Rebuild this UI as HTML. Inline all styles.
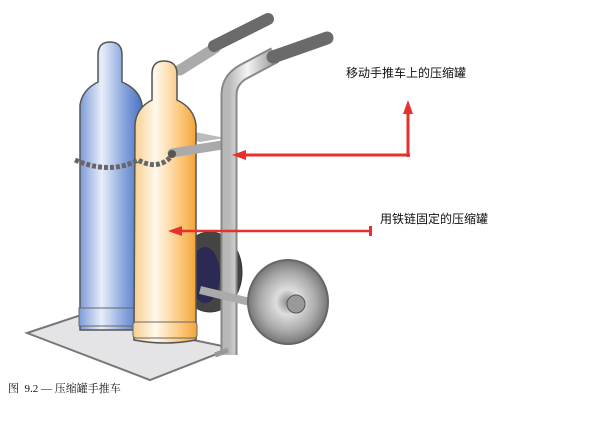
<!DOCTYPE html>
<html><head><meta charset="utf-8"><style>
body{margin:0;background:#fff;width:600px;height:435px;overflow:hidden;position:relative;font-family:"Liberation Serif","Noto Serif CJK SC",serif}
.t{position:absolute;font-size:12px;color:#111;font-family:"Liberation Sans","Noto Sans CJK SC",sans-serif}
</style></head><body>
<svg width="600" height="435" style="position:absolute;left:0;top:0">
<defs>
<linearGradient id="bl" x1="0" x2="1"><stop offset="0" stop-color="#7d9bd8"/><stop offset=".35" stop-color="#e8eefa"/><stop offset=".7" stop-color="#8aa6dd"/><stop offset="1" stop-color="#4a72c4"/></linearGradient>
<linearGradient id="or" x1="0" x2="1"><stop offset="0" stop-color="#f7cf8e"/><stop offset=".35" stop-color="#fff8ec"/><stop offset=".75" stop-color="#fbc77a"/><stop offset="1" stop-color="#f3a53a"/></linearGradient>
<linearGradient id="mt" x1="0" x2="1"><stop offset="0" stop-color="#b8b8b8"/><stop offset=".4" stop-color="#f4f4f4"/><stop offset="1" stop-color="#9a9a9a"/></linearGradient>
<radialGradient id="wh"><stop offset="0" stop-color="#888"/><stop offset=".3" stop-color="#ddd"/><stop offset=".7" stop-color="#aaa"/><stop offset="1" stop-color="#777"/></radialGradient>
</defs>
<polygon points="27,333 78,316 232,348 150,380" fill="#e4e4e6" stroke="#777" stroke-width="2"/>
<ellipse cx="210" cy="272" rx="32" ry="40" fill="#444" stroke="#333"/>
<ellipse cx="205" cy="275" rx="15" ry="28" fill="#2a2a55"/>
<path d="M180,70 L215,48" stroke="#aaa" stroke-width="11" stroke-linecap="round" fill="none"/>
<path d="M214,46 L268,19" stroke="#6a6a6a" stroke-width="12" stroke-linecap="round"/>
<polygon points="170,135 195,132 225,138 200,142" fill="#bbb"/>
<path d="M80,105 Q82,90 98,82 L98,55 Q98,42 110,42 Q122,42 122,55 L122,82 Q140,90 142,105 L142,330 L80,330 Z" fill="url(#bl)" stroke="#555" stroke-width="1.5"/>
<rect x="79" y="308" width="64" height="18" fill="url(#bl)" stroke="#666"/>
<path d="M135,125 Q136,108 152,100 L152,74 Q152,61 164,61 Q177,61 177,74 L177,100 Q194,108 196,125 L196,340 Q165,346 134,340 Z" fill="url(#or)" stroke="#555" stroke-width="1.5"/>
<rect x="133" y="322" width="64" height="16" rx="3" fill="url(#or)" stroke="#666"/>
<path d="M75,160 Q110,175 138,160 Q160,172 174,153" stroke="#666" stroke-width="5" fill="none" stroke-dasharray="4 2"/>
<path d="M172,153 L222,145" stroke="#aaa" stroke-width="9" stroke-linecap="round"/>
<circle cx="172" cy="154" r="4" fill="#555"/>
<path d="M229,355 L229,95 Q229,80 243,72 L275,55" stroke="#888" stroke-width="17" fill="none" stroke-linejoin="round"/>
<path d="M229,355 L229,95 Q229,80 243,72 L275,55" stroke="url(#mt)" stroke-width="13" fill="none"/>
<path d="M273,57 L327,38" stroke="#6a6a6a" stroke-width="13" stroke-linecap="round"/>
<path d="M215,355 L228,350" stroke="#999" stroke-width="5"/>
<path d="M200,290 L250,302" stroke="#aaa" stroke-width="8"/>
<ellipse cx="288" cy="302" rx="40" ry="42" fill="url(#wh)" stroke="#666" stroke-width="2"/>
<circle cx="296" cy="304" r="9" fill="#999" stroke="#555"/>
<path d="M410,155 L244,155" stroke="#e8302e" stroke-width="3"/>
<polygon points="232,155 246,150 246,160" fill="#e8302e"/>
<path d="M408,157 L408,110" stroke="#e8302e" stroke-width="3"/>
<polygon points="408,100 403,114 413,114" fill="#e8302e"/>
<path d="M371,231 L180,231" stroke="#e8302e" stroke-width="2.5"/>
<rect x="369" y="226" width="3" height="10" fill="#e8302e"/>
<polygon points="168,231 182,226 182,236" fill="#e8302e"/>
</svg>
<div class="t" style="left:346px;top:64px">移动手推车上的压缩罐</div>
<div class="t" style="left:380px;top:210px">用铁链固定的压缩罐</div>
<div class="t" style="left:8px;top:380px;font-size:11px;font-family:'Liberation Serif','Noto Serif CJK SC',serif">图&nbsp; 9.2 — 压缩罐手推车</div>
</body></html>
